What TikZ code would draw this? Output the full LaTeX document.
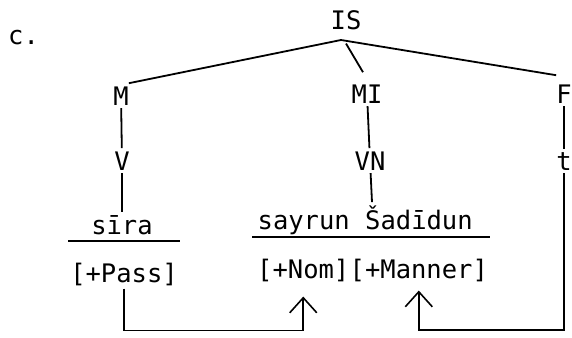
\documentclass[tikz,border=0pt]{standalone}
\usepackage{fontspec}
\setmonofont{DejaVu Sans Mono}
\usepackage{tikz}
\usetikzlibrary{arrows.meta, positioning}

\begin{document}
\begin{tikzpicture}[x=1pt, y=-1pt,
  texto/.style={font=\ttfamily\fontsize{25.5}{30}\selectfont, inner xsep=0pt, inner ysep=3pt},
  ramo/.style={line width=1.8pt},
  regua/.style={line width=2pt},
  seta/.style={line width=1.6pt, -{Straight Barb[length=15pt, width=27pt]}}]
\useasboundingbox (0,0) rectangle (572,337);

% Rotulo do exemplo:
\node[texto, anchor=base west] (rotulo) at (8,45) {c.};

% Raiz e primeiro nivel da arvore:
\node[texto, anchor=base] (IS) at (346,30) {IS};
\node[texto, anchor=base] (M) at (121,105) {M};
\node[texto, anchor=base] (MI) at (367,103) {MI};
\node[texto, anchor=base] (F) at (564,103) {F};
\coordinate (apex) at (341,40);

% Segundo nivel:
\node[texto, anchor=base] (V) at (122,170) {V};
\node[texto, anchor=base] (VN) at (370,170) {VN};
\node[texto, anchor=base] (t) at (564,170) {t};

% Palavras e tracos:
\node[texto, anchor=base] (sira) at (122,234) {sīra};
\node[texto, anchor=base east] (sayrun) at (350,229) {sayrun};
\node[texto, anchor=base west] (sadidun) at (365,229) {Šadīdun};
\node[texto, anchor=base] (pass) at (124,282) {[+Pass]};
\node[texto, anchor=base west] (nom) at (257,278) {[+Nom]};
\node[texto, anchor=base west] (manner) at (nom.base east) {[+Manner]};

% Ramos da arvore:
\draw[ramo] (M.north east) -- (apex) -- ([yshift=6pt]F.north west);
\draw[ramo] ([yshift=-10pt]IS.south) -- ([xshift=-4pt, yshift=9pt]MI.north);
\draw[ramo] (M) -- (V);
\draw[ramo] (MI) -- (VN);
\draw[ramo] (F) -- (t);
\draw[ramo] (V) -- (sira.north);
\draw[ramo] (VN) -- ([xshift=7pt]sadidun.north west);

% Linhas sob as palavras:
\draw[regua] (68,241) -- (180,241);
\draw[regua] (252,237) -- (490,237);

% Flechas para os tracos:
\draw[seta, shorten >=12pt] (pass.south) -- ++(0,42) -| (nom.south);
\draw[seta, shorten >=6pt] (t.south) -- ++(0,157) -| (manner.south);
\end{tikzpicture}
\end{document}
